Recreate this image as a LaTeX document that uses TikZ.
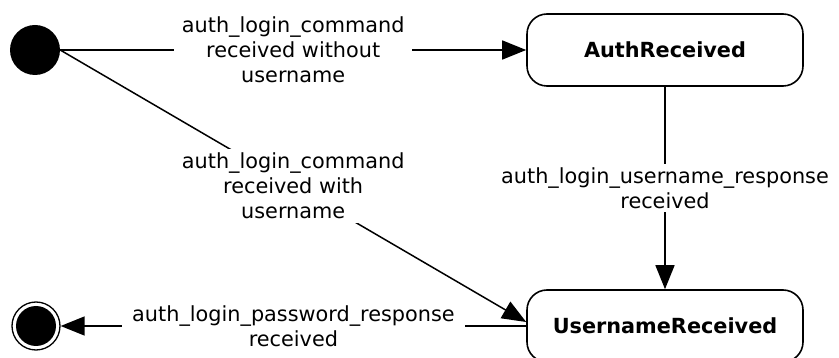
\documentclass[tikz,border=0pt]{standalone}
\usepackage{fontspec}
\setmainfont{DejaVu Sans}
\usetikzlibrary{arrows.meta}
\begin{document}
\begin{tikzpicture}[x=1pt,y=-1pt,
  state/.style={draw, line width=1.6pt, rounded corners=20pt, minimum width=276pt, minimum height=72pt, font=\fontsize{20.8}{25}\selectfont\bfseries, inner sep=0pt},
  conn/.style={line width=1.5pt, -{Triangle[length=24pt,width=19pt]}},
  lbl/.style={fill=white, align=center, font=\fontsize{20.8}{25}\selectfont, inner ysep=1pt, inner xsep=8pt}]
\path[use as bounding box] (0,0) rectangle (839,358);
\clip (0,0) rectangle (839,358);
\node[circle, fill=black, minimum size=50pt, inner sep=0pt] (init) at (35,50) {};
\node[state] (ar) at (665,50) {AuthReceived};
\node[state] (ur) at (665,326) {UsernameReceived};
\node[circle, draw, line width=1.3pt, minimum size=48pt, inner sep=0pt] (fin) at (36,326) {};
\fill (fin.center) circle (20pt);
\draw[conn] (init) -- node[lbl] {auth\_login\_command\\received without\\username} (ar);
\draw[conn] (init.east) -- node[lbl, inner ysep=4pt] {auth\_login\_command\\received with\\username} ([yshift=4pt]ur.west);
\draw[conn] (ar) -- node[lbl, inner xsep=0pt, inner ysep=3pt] {auth\_login\_username\_response\\received} (ur);
\draw[conn] (ur) -- node[lbl, inner xsep=10pt] {auth\_login\_password\_response\\received} (fin);
\end{tikzpicture}
\end{document}
